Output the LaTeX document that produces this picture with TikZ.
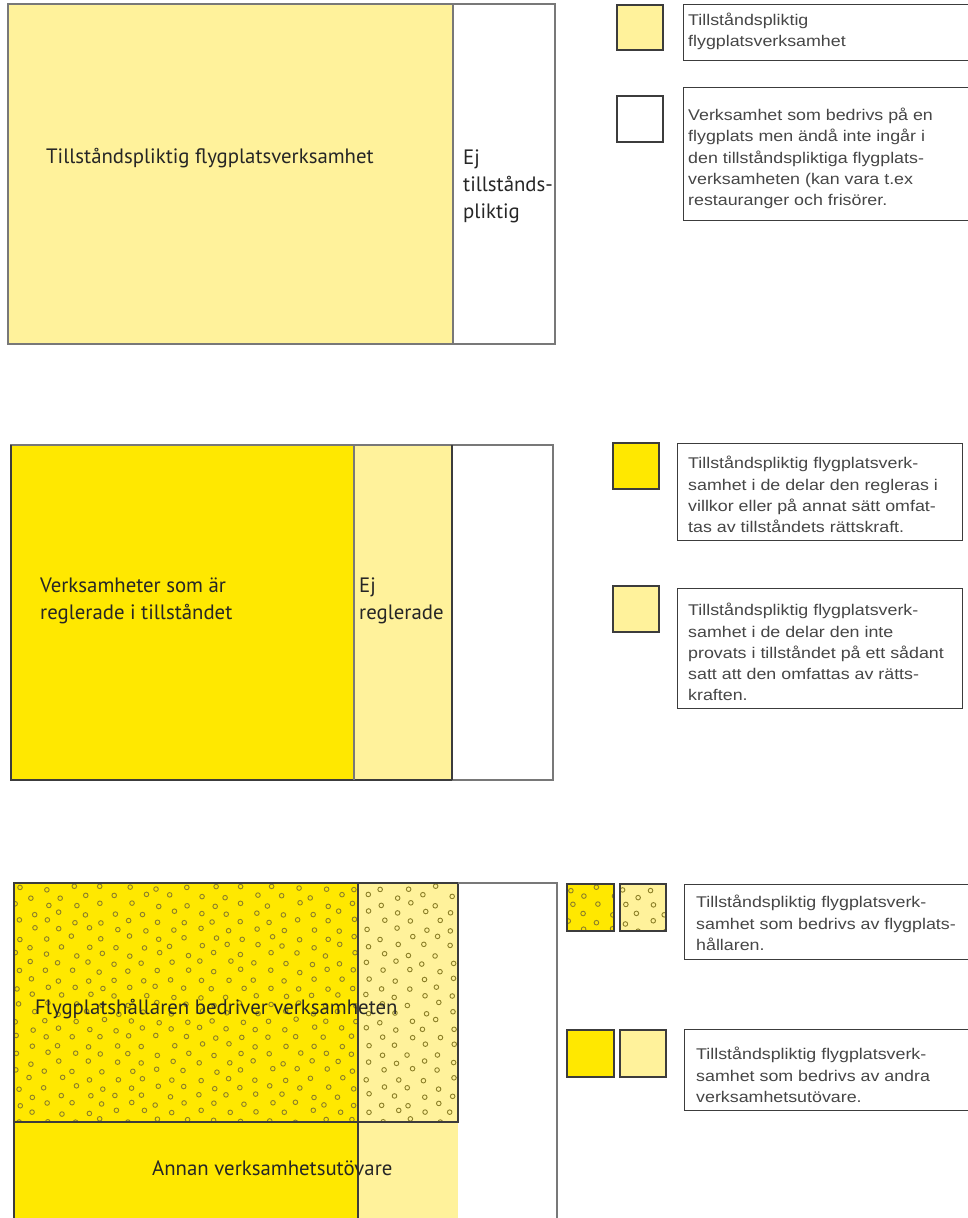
\documentclass[tikz,border=0pt]{standalone}
\usepackage{fontspec}
\setmainfont{Liberation Sans}
\newfontfamily\labfont{PT Sans}
\newfontfamily\legfont[FakeStretch=1.15]{Liberation Sans}
\definecolor{brightY}{RGB}{255,232,0}
\definecolor{lightY}{RGB}{255,242,155}
\definecolor{frameG}{RGB}{120,120,120}
\definecolor{darkG}{RGB}{60,60,60}
\definecolor{legtext}{RGB}{70,70,70}
\definecolor{dotC}{RGB}{140,128,40}
\tikzset{
  frame/.style={draw=frameG, line width=1.2pt},
  darkline/.style={draw=darkG, line width=1.2pt},
  lab/.style={font=\labfont\fontsize{20.8}{27}\selectfont, text=black!85, inner sep=0pt, align=left, anchor=north west},
  leg/.style={font=\legfont\fontsize{15.5}{21.3}\selectfont, text=legtext, inner sep=0pt, align=left, anchor=north west},
  legbox/.style={draw=darkG, line width=1pt, fill=white},
  swatch/.style={draw=darkG, line width=1.2pt},
  dotty/.style={draw=dotC, line width=0.9pt}
}
\newcommand{\dotfield}[5]{%
  \begin{scope}
    \clip (#1,#2) rectangle (#3,#4);
    \pgfmathsetseed{#5}
    \foreach \j in {0,...,30}{
      \foreach \i in {0,...,17}{
        \pgfmathsetmacro\xx{#1+4+\i*28+mod(\j,2)*14+(rnd-0.5)*6}
        \pgfmathsetmacro\yy{#2+5+\j*8.3+(rnd-0.5)*4}
        \draw[dotty] (\xx,\yy) circle (2.3);
      }
    }
  \end{scope}}
\begin{document}
\begin{tikzpicture}[x=1pt,y=-1pt]
\useasboundingbox[fill=white] (0,0) rectangle (968,1218);

% ---------- Panel 1 ----------
\fill[lightY] (8,4) rectangle (453,344);
\draw[frame] (8,4) rectangle (555,344);
\draw[frame] (453,4) -- (453,344);
\node[lab] (p1a) at (46,148) {Tillståndspliktig flygplatsverksamhet};
\node[lab] (p1b) at (463,150) {Ej\\tillstånds-\\pliktig};

% legend 1
\draw[swatch, fill=lightY] (617,5) rectangle (663,50);
\draw[legbox] (683,4) rectangle (975,60);
\node[leg] (l1) at (688,13) {Tillståndspliktig\\flygplatsverksamhet};
\draw[swatch, fill=white] (617,96) rectangle (663,142);
\draw[legbox] (683,87) rectangle (975,220);
\node[leg] (l2) at (688,108) {Verksamhet som bedrivs på en\\flygplats men ändå inte ingår i\\den tillståndspliktiga flygplats-\\verksamheten (kan vara t.ex\\restauranger och frisörer.};

% ---------- Panel 2 ----------
\fill[brightY] (11,445) rectangle (354,780);
\fill[lightY] (354,445) rectangle (452,780);
\draw[frame] (11,445) rectangle (553,780);
\draw[darkline] (11,445) -- (11,780) -- (452,780);
\draw[frame] (354,445) -- (354,780);
\draw[darkline] (452,445) -- (452,780);
\node[lab] (p2a) at (40,578) {Verksamheter som är\\reglerade i tillståndet};
\node[lab] (p2b) at (359,578) {Ej\\reglerade};

% legend 2
\draw[swatch, fill=brightY] (613,443) rectangle (659,489);
\draw[legbox] (677,443) rectangle (962,540);
\node[leg] (l3) at (688,456) {Tillståndspliktig flygplatsverk-\\samhet i de delar den regleras i\\villkor eller på annat sätt omfat-\\tas av tillståndets rättskraft.};
\draw[swatch, fill=lightY] (613,586) rectangle (659,632);
\draw[legbox] (677,588) rectangle (962,708);
\node[leg] (l4) at (688,603) {Tillståndspliktig flygplatsverk-\\samhet i de delar den inte\\provats i tillståndet på ett sådant\\satt att den omfattas av rätts-\\kraften.};

% ---------- Panel 3 ----------
\fill[brightY] (14,883) rectangle (358,1222);
\fill[lightY] (358,883) rectangle (458,1222);
\dotfield{14}{883}{458}{1122}{17}
\draw[darkline] (14,883) rectangle (458,1122);
\draw[darkline] (358,883) -- (358,1222);
\draw[darkline] (14,1122) -- (14,1222);
\draw[frame] (458,883) -- (557,883) -- (557,1222);
\node[lab] (p3a) at (35,999) {Flygplatshållaren bedriver verksamheten};
\node[lab] (p3b) at (152,1160) {Annan verksamhetsutövare};

% legend 3
\fill[brightY] (567,884) rectangle (614,931);
\dotfield{567}{884}{614}{931}{5}
\draw[swatch] (567,884) rectangle (614,931);
\fill[lightY] (620,884) rectangle (666,931);
\dotfield{620}{884}{666}{931}{9}
\draw[swatch] (620,884) rectangle (666,931);
\draw[legbox] (684,884) rectangle (975,959);
\node[leg] (l5) at (696,895) {Tillståndspliktig flygplatsverk-\\samhet som bedrivs av flygplats-\\hållaren.};
\draw[swatch, fill=brightY] (567,1030) rectangle (614,1077);
\draw[swatch, fill=lightY] (620,1030) rectangle (666,1077);
\draw[legbox] (684,1029) rectangle (975,1110);
\node[leg] (l6) at (696,1047) {Tillståndspliktig flygplatsverk-\\samhet som bedrivs av andra\\verksamhetsutövare.};
\end{tikzpicture}
\end{document}
